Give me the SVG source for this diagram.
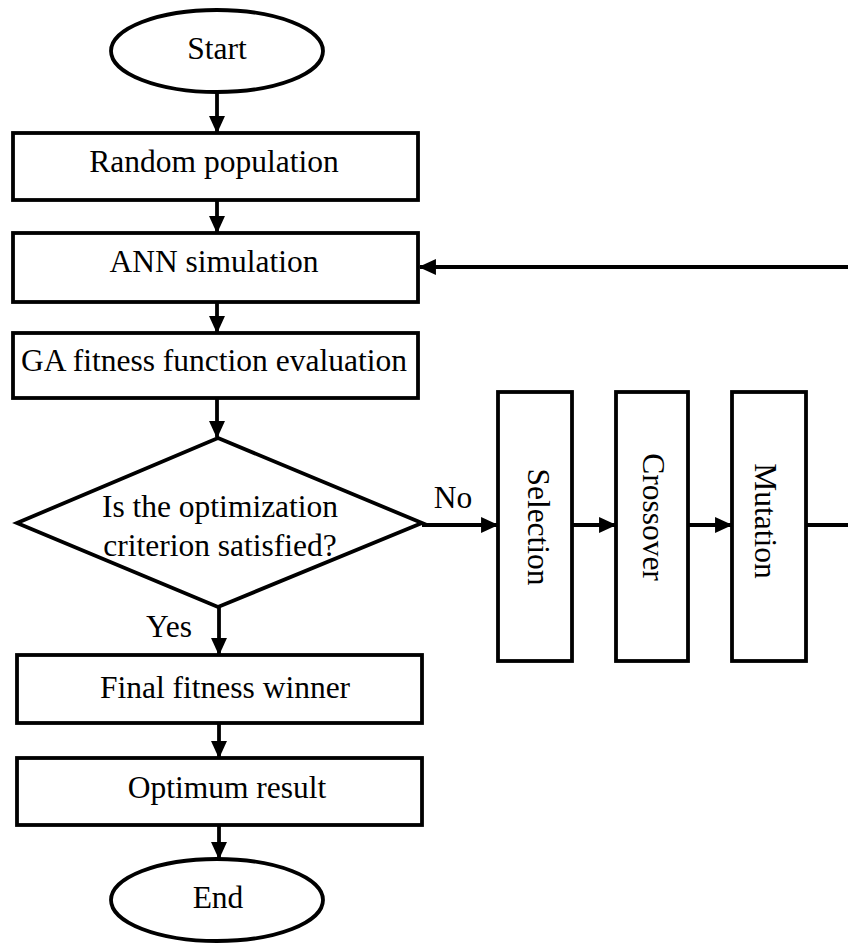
<svg xmlns="http://www.w3.org/2000/svg" width="848" height="947" viewBox="0 0 848 947">
<style>
.s{fill:#fff;stroke:#000;stroke-width:3.8}
.t{font-family:"Liberation Serif","Times New Roman",serif;font-size:31.5px;fill:#000;text-anchor:middle}
.c{fill:none;stroke:#000;stroke-width:3.8}
</style>
<defs>
<marker id="ah" markerWidth="5" markerHeight="5" refX="4.2" refY="2.5" orient="auto" markerUnits="strokeWidth" viewBox="0 0 5 5">
<path d="M0,0.4 L4.6,2.5 L0,4.6 Z" fill="#000"/>
</marker>
</defs>
<g id="connectors">
<line class="c" x1="217" y1="93" x2="217" y2="132" marker-end="url(#ah)"/>
<line class="c" x1="217" y1="200" x2="217" y2="232" marker-end="url(#ah)"/>
<line class="c" x1="217" y1="302" x2="217" y2="332" marker-end="url(#ah)"/>
<line class="c" x1="217" y1="398" x2="217" y2="437" marker-end="url(#ah)"/>
<line class="c" x1="219" y1="607" x2="219" y2="654" marker-end="url(#ah)"/>
<line class="c" x1="219" y1="723" x2="219" y2="757" marker-end="url(#ah)"/>
<line class="c" x1="219" y1="825" x2="219" y2="858" marker-end="url(#ah)"/>
<line class="c" x1="422" y1="525" x2="497" y2="525" marker-end="url(#ah)"/>
<line class="c" x1="572" y1="525" x2="615" y2="525" marker-end="url(#ah)"/>
<line class="c" x1="688" y1="525" x2="731" y2="525" marker-end="url(#ah)"/>
<polyline class="c" points="806,525 852,525 852,267 420,267" marker-end="url(#ah)"/>
<text class="t" x="453" y="508">No</text>
<text class="t" x="169" y="637">Yes</text>
</g>
<g id="start">
<ellipse class="s" cx="217" cy="51" rx="106" ry="41"/>
<text class="t" x="217" y="59">Start</text>
</g>
<g id="random">
<rect class="s" x="13" y="133" width="405" height="67"/>
<text class="t" x="214" y="172">Random population</text>
</g>
<g id="ann">
<rect class="s" x="13" y="233" width="405" height="69"/>
<text class="t" x="214" y="272">ANN simulation</text>
</g>
<g id="ga">
<rect class="s" x="13" y="333" width="405" height="65"/>
<text class="t" x="214" y="371">GA fitness function evaluation</text>
</g>
<g id="decision">
<polygon class="s" points="218,438 422,523 218,607 17,523"/>
<text class="t" x="220" y="517">Is the optimization</text>
<text class="t" x="220" y="556">criterion satisfied?</text>
</g>
<g id="selection">
<rect class="s" x="498" y="392" width="74" height="269"/>
<text class="t" transform="translate(528,527) rotate(90)">Selection</text>
</g>
<g id="crossover">
<rect class="s" x="616" y="392" width="72" height="269"/>
<text class="t" transform="translate(643,517) rotate(90)">Crossover</text>
</g>
<g id="mutation">
<rect class="s" x="732" y="392" width="74" height="269"/>
<text class="t" transform="translate(755,521) rotate(90)">Mutation</text>
</g>
<g id="final">
<rect class="s" x="17" y="655" width="405" height="68"/>
<text class="t" x="225" y="698">Final fitness winner</text>
</g>
<g id="optimum">
<rect class="s" x="17" y="758" width="405" height="67"/>
<text class="t" x="227" y="798">Optimum  result</text>
</g>
<g id="end">
<ellipse class="s" cx="217" cy="900" rx="106" ry="41"/>
<text class="t" x="218" y="908">End</text>
</g>
</svg>
